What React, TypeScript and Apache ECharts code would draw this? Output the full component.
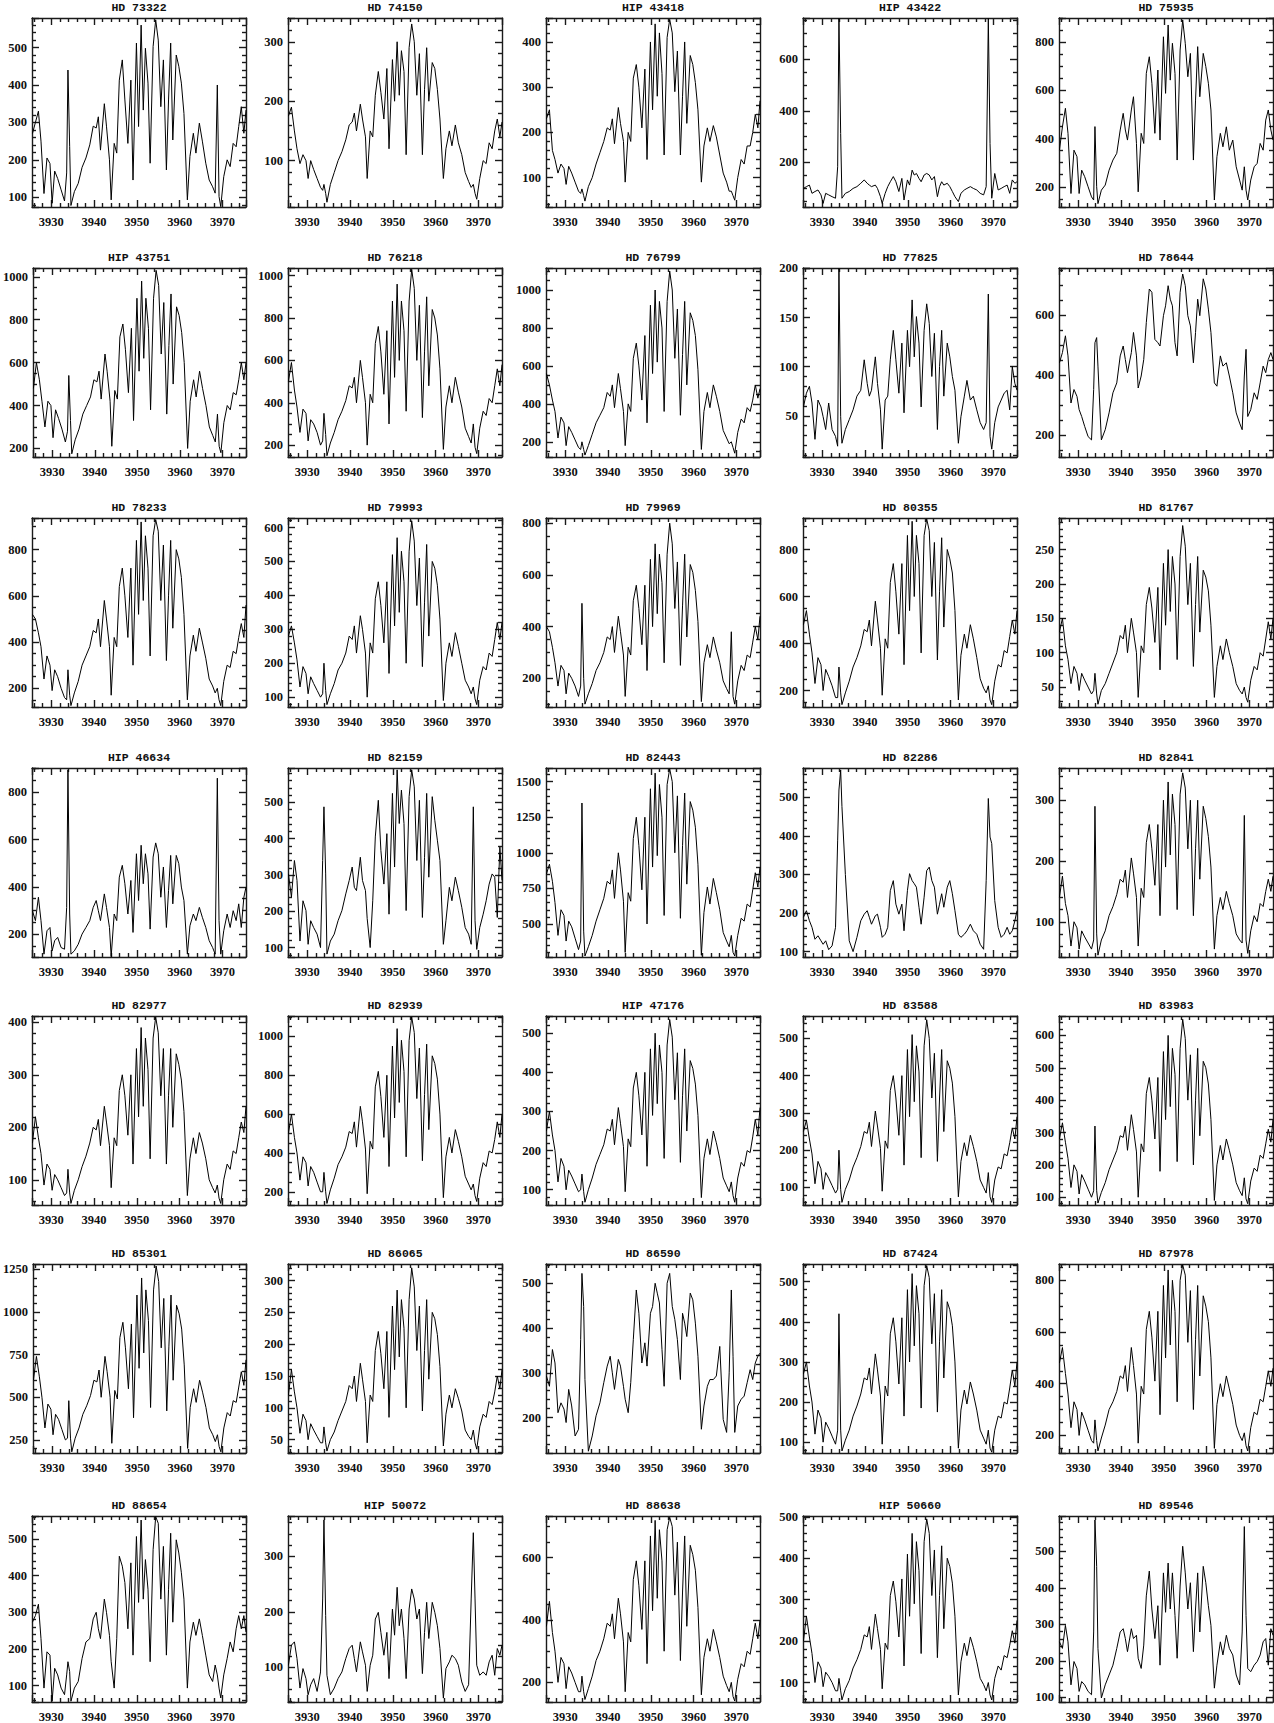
import React, { useEffect, useRef } from "react";
import * as echarts from "echarts";

// Shared wavelength grid (Angstrom)
const WAVE = [3925.6, 3926.3, 3927.0, 3927.6, 3928.3, 3929.0, 3929.7, 3930.2, 3930.8, 3931.5,
  3932.3, 3933.1, 3933.6, 3933.9, 3934.3, 3934.6, 3935.4, 3936.3, 3937.2, 3938.1,
  3939.0, 3939.8, 3940.5, 3941.0, 3941.5, 3942.4, 3942.9, 3943.6, 3944.0, 3944.7,
  3945.3, 3945.9, 3946.6, 3947.2, 3947.9, 3948.6, 3949.1, 3949.9, 3950.4, 3951.0,
  3951.5, 3952.0, 3952.6, 3953.1, 3953.8, 3954.4, 3955.0, 3955.6, 3956.2, 3956.9,
  3957.4, 3957.9, 3958.4, 3959.2, 3959.8, 3960.4, 3961.0, 3961.8, 3962.4, 3963.2,
  3963.8, 3964.6, 3965.3, 3966.1, 3966.9, 3967.7, 3968.3, 3968.8, 3969.2, 3969.6,
  3970.3, 3971.1, 3971.8, 3972.5, 3973.2, 3973.8, 3974.4, 3975.0, 3975.5];

const STAR_NAMES = [
  "HD 73322", "HD 74150", "HIP 43418", "HIP 43422", "HD 75935",
  "HIP 43751", "HD 76218", "HD 76799", "HD 77825", "HD 78644",
  "HD 78233", "HD 79993", "HD 79969", "HD 80355", "HD 81767",
  "HIP 46634", "HD 82159", "HD 82443", "HD 82286", "HD 82841",
  "HD 82977", "HD 82939", "HIP 47176", "HD 83588", "HD 83983",
  "HD 85301", "HD 86065", "HD 86590", "HD 87424", "HD 87978",
  "HD 88654", "HIP 50072", "HD 88638", "HIP 50660", "HD 89546"];

const F_HD73322 = [270,300,330,250,110,205,190,84,170,150,120,90,165,440,235,78,115,137,180,205,240,290,285,315,226,350,290,200,93,244,218,413,467,360,244,413,146,512,289,560,333,498,405,191,503,574,520,342,467,173,360,512,253,480,450,405,324,93,209,271,218,298,250,191,146,128,111,400,102,75,155,200,182,244,235,289,342,271,333];
const F_HD74150 = [175,190,150,120,95,110,100,70,100,85,70,55,50,60,45,30,60,80,100,115,135,160,165,180,150,195,170,140,70,150,140,210,250,215,170,255,120,270,200,300,210,285,250,110,290,330,300,210,280,110,220,290,200,265,255,220,170,70,120,150,125,160,130,110,80,65,55,60,45,35,70,100,95,130,120,150,170,140,165];
const F_HIP43418 = [230,250,160,140,110,130,120,85,125,110,90,70,65,75,60,48,80,100,130,155,180,210,205,230,175,255,220,180,90,200,180,320,350,300,210,340,140,400,250,440,280,420,330,150,410,450,420,290,380,150,280,400,220,370,350,310,250,90,170,210,180,215,190,150,110,90,70,70,60,50,100,140,130,170,170,200,240,210,270];
const F_HIP43422 = [99,106,112,80,87,93,74,41,80,74,67,61,183,758,312,61,80,87,99,106,119,132,119,112,106,112,99,67,41,80,106,125,145,125,87,138,54,132,112,170,151,157,138,125,151,157,151,132,145,67,106,125,112,119,106,87,67,48,80,93,99,106,99,93,80,74,106,758,273,61,157,93,99,106,112,80,132,119,125];
const F_HD75935 = [352,449,526,422,172,352,325,172,269,242,200,158,145,450,200,130,186,207,269,311,339,436,505,436,394,519,574,380,179,422,380,671,740,630,422,685,394,823,588,872,643,796,671,311,768,893,796,657,754,311,560,782,574,754,699,630,519,145,325,422,366,449,352,394,283,228,186,283,186,145,228,283,297,380,352,477,519,436,394];
const F_HIP43751 = [480,600,520,420,300,420,400,250,380,340,290,230,280,540,330,175,240,290,360,400,440,520,510,560,430,640,560,420,210,470,430,720,780,660,460,760,330,900,560,980,620,900,760,380,900,1030,960,640,880,360,680,920,500,860,820,740,600,200,420,520,440,560,480,400,300,260,230,360,210,180,320,400,380,460,450,520,600,520,600];
const F_HD76218 = [500,590,460,380,260,370,350,220,320,300,260,200,220,350,250,150,210,260,320,360,410,480,470,520,400,600,520,400,200,440,400,680,760,640,440,740,300,880,520,960,600,880,740,360,880,1030,940,600,860,330,640,900,480,840,800,720,560,180,380,480,400,520,450,380,280,240,210,300,190,160,280,360,340,420,400,480,560,480,580];
const F_HD76799 = [560,500,420,360,220,330,300,180,280,250,210,170,160,200,160,130,180,240,300,340,380,460,440,500,380,560,480,360,180,400,360,640,720,600,420,760,300,920,560,1000,620,940,800,360,940,1100,1000,640,900,340,660,940,500,880,840,760,580,160,360,460,380,500,440,360,260,220,190,200,170,140,250,320,300,380,360,420,500,430,480];
const F_HD77825 = [59,73,80,63,26,66,59,49,36,63,36,29,19,200,49,22,36,46,56,70,76,107,83,70,76,110,83,56,16,66,70,107,137,107,73,124,53,137,100,168,110,151,124,59,137,164,144,90,134,36,100,137,70,124,110,90,76,22,49,70,86,66,70,56,43,36,43,174,29,16,43,59,66,73,76,56,100,83,76];
const F_HD78644 = [440,474,530,463,306,351,328,284,261,228,194,183,351,507,524,429,183,217,273,340,373,463,496,451,407,474,541,463,356,396,451,574,686,675,518,507,496,597,630,697,652,630,507,463,675,736,697,597,563,440,541,652,597,720,686,619,541,373,362,463,429,440,396,340,273,239,217,396,485,261,284,340,318,373,429,407,451,474,451];
const F_HD78233 = [520,500,440,380,240,340,300,190,280,250,200,160,150,280,170,125,180,230,300,340,380,450,440,500,380,580,500,380,170,420,380,640,720,600,420,720,300,840,520,920,580,860,720,340,860,930,880,580,820,320,600,840,460,800,760,680,520,150,340,430,360,460,400,330,240,210,180,200,150,125,230,300,290,360,350,420,480,420,560];
const F_HD79993 = [280,310,260,210,130,190,170,110,160,140,120,100,110,200,120,78,110,140,180,200,230,280,270,310,230,340,300,230,100,260,230,390,440,370,260,440,170,520,310,570,350,530,440,200,530,620,560,370,510,190,380,550,280,500,480,430,330,90,200,260,220,290,250,200,150,130,110,130,95,78,150,190,180,230,220,270,320,270,320];
const F_HD79969 = [400,380,320,260,170,250,230,140,220,200,170,130,170,490,200,100,140,180,230,260,300,360,350,400,300,440,380,290,130,320,290,500,560,470,330,560,230,660,400,720,450,680,570,260,680,800,720,470,650,250,480,680,360,640,610,540,420,110,260,330,280,360,310,260,190,160,140,380,130,100,190,250,230,290,280,340,400,350,440];
const F_HD80355 = [480,540,440,360,230,340,310,200,290,260,220,170,170,300,190,140,190,240,300,340,390,460,450,500,390,580,500,380,180,420,380,660,740,620,440,740,310,860,540,920,600,860,740,360,860,930,880,600,830,330,620,850,470,800,760,700,540,160,350,440,380,480,420,340,250,210,190,220,160,140,240,310,300,370,360,430,500,440,540];
const F_HD81767 = [130,150,110,90,55,80,70,45,70,60,50,40,45,70,40,25,45,55,70,85,100,125,120,140,100,150,130,100,35,110,100,170,195,165,115,195,75,230,140,250,160,240,200,90,240,285,255,170,230,80,170,240,130,220,210,190,140,35,80,110,90,120,100,80,55,45,40,50,35,28,60,80,75,100,95,120,145,120,150];
const F_HIP46634 = [299,257,356,257,115,214,228,129,172,186,143,136,313,895,285,115,129,157,200,228,257,313,342,299,257,370,313,228,105,285,257,441,491,413,285,427,207,540,342,576,413,540,455,221,526,586,540,356,484,228,384,533,328,533,498,399,342,115,235,285,257,313,271,228,172,143,115,860,257,115,214,285,228,299,257,328,228,356,399];
const F_HD82159 = [303,239,340,285,118,229,202,109,174,155,137,100,340,488,303,82,118,137,174,202,248,285,322,266,257,349,285,257,180,100,229,405,506,368,275,414,192,525,322,590,442,534,442,202,516,590,543,340,506,183,349,525,294,516,451,396,340,109,174,266,229,294,257,211,155,137,109,488,174,95,155,192,229,275,303,294,183,377,285];
const F_HD82443 = [850,920,800,650,420,600,560,380,520,480,400,320,380,1350,450,275,340,420,520,600,680,800,780,880,680,1000,880,660,300,720,660,1100,1250,1050,740,1250,500,1450,900,1560,980,1480,1250,560,1480,1590,1500,1000,1400,540,1050,1420,780,1360,1300,1180,920,280,580,760,640,820,720,600,440,380,340,420,300,275,420,540,520,640,620,740,860,760,900];
const F_HD82286 = [189,206,180,163,132,141,128,119,128,105,115,163,389,519,571,476,300,128,100,137,180,197,206,189,171,193,197,163,137,145,163,258,284,223,197,223,154,258,302,284,276,267,215,171,241,310,319,284,267,197,223,250,215,267,284,250,206,145,137,145,154,171,154,145,119,106,284,497,397,380,232,163,137,145,163,145,154,180,206];
const F_HD82841 = [140,175,130,110,60,100,90,55,85,75,65,55,70,290,80,45,70,85,110,125,145,170,165,185,140,205,180,140,60,155,140,230,260,220,160,260,110,300,190,330,210,310,260,120,310,345,320,220,300,110,220,300,170,290,270,240,190,55,110,140,120,150,130,110,80,70,65,275,70,48,85,110,100,130,125,150,170,150,175];
const F_HD82977 = [170,220,180,150,90,130,120,80,110,100,85,70,75,120,75,55,80,100,125,145,170,200,195,215,165,240,210,165,85,180,165,270,300,260,185,300,130,350,220,390,240,370,310,140,370,410,380,260,350,130,260,350,200,340,320,290,230,70,140,180,150,190,170,140,100,85,75,90,65,55,100,130,120,155,150,180,210,190,240];
const F_HD82939 = [500,600,480,400,260,380,350,230,330,300,250,200,200,300,200,140,210,270,340,380,430,510,500,560,430,640,560,420,190,460,420,740,820,690,480,800,330,950,580,1040,660,980,820,380,980,1100,1020,680,940,360,700,960,520,900,860,780,600,170,380,480,400,520,460,380,280,240,210,240,180,150,270,350,330,410,400,470,560,480,600];
const F_HIP47176 = [250,300,240,200,120,180,160,100,150,135,115,95,100,140,95,68,100,130,165,190,215,255,250,280,215,310,270,210,95,230,210,360,400,340,240,400,160,460,290,500,320,470,400,180,470,535,490,330,450,170,340,460,250,430,410,370,290,80,180,230,190,250,220,180,130,110,95,120,85,68,130,170,160,200,195,235,280,240,310];
const F_HD83588 = [250,280,230,190,110,170,150,95,140,125,105,85,95,200,95,60,95,120,155,180,210,250,245,275,210,305,265,205,90,225,205,360,400,340,240,400,160,470,290,510,330,480,410,180,480,550,500,340,460,170,340,470,250,440,420,380,290,75,170,220,185,240,210,170,120,100,85,140,75,60,120,155,150,190,185,220,260,230,290];
const F_HD83983 = [280,330,270,220,130,200,180,110,170,150,125,100,120,320,120,82,115,145,185,215,245,290,285,320,245,355,310,240,100,265,240,420,470,400,280,470,180,550,340,600,380,560,480,210,560,650,590,400,540,200,400,560,290,520,500,450,340,90,200,260,215,280,245,200,145,120,105,160,95,80,150,190,180,230,220,265,310,270,340];
const F_HD85301 = [600,740,620,500,320,460,430,280,400,370,310,250,260,480,260,180,260,320,400,450,510,600,590,660,500,740,650,500,230,540,490,850,940,790,550,930,380,1100,670,1200,760,1130,950,440,1130,1270,1180,790,1080,420,800,1100,600,1040,990,900,690,200,440,550,470,600,530,440,320,280,240,280,210,180,320,410,390,480,470,560,650,570,720];
const F_HD86065 = [120,160,125,100,60,90,80,50,75,65,55,45,45,70,45,32,50,62,80,95,110,135,130,150,110,170,145,110,45,120,110,190,220,185,130,220,85,260,160,285,180,270,225,100,270,320,290,190,260,95,190,270,145,250,240,215,165,40,90,120,100,130,115,95,65,55,50,65,45,35,70,90,85,110,105,125,150,130,160];
const F_HD86590 = [293,270,352,322,211,233,219,189,263,226,159,174,374,522,448,285,125,159,204,233,278,315,337,300,263,330,315,270,241,211,278,374,485,433,322,367,315,433,448,500,478,456,352,270,500,522,448,419,374,285,433,411,381,478,463,411,337,174,226,270,285,285,293,359,196,167,300,485,337,167,226,241,248,278,307,285,322,337,344];
const F_HD87424 = [270,300,240,200,120,180,160,100,150,135,115,95,130,420,130,78,105,130,165,190,220,260,255,285,220,320,280,215,95,240,215,370,410,350,245,410,165,480,300,520,340,490,420,185,490,540,510,345,470,175,350,480,260,450,430,390,300,85,180,230,195,250,220,180,130,110,95,130,85,75,130,165,160,200,195,235,280,240,300];
const F_HD87978 = [480,540,440,360,230,330,300,200,290,260,220,180,170,260,180,140,190,240,300,330,370,430,420,470,370,540,470,360,170,390,360,610,680,580,410,680,280,780,500,840,550,800,680,330,800,860,820,560,760,300,570,780,430,740,700,640,500,150,320,400,350,430,380,320,240,200,180,210,160,140,230,290,280,340,330,390,450,390,460];
const F_HD88654 = [273,291,322,228,93,192,183,57,147,129,93,75,129,165,138,57,93,111,174,219,228,282,300,255,228,336,300,237,165,93,228,453,426,381,255,435,183,507,327,552,336,444,363,165,471,561,543,336,480,183,363,516,273,498,462,408,336,93,219,273,237,282,237,183,129,111,156,129,93,66,129,174,219,192,255,291,255,291,246];
const F_HIP50072 = [104,140,146,116,63,98,80,51,69,80,57,92,223,365,193,86,51,63,80,92,116,134,140,116,92,146,128,104,57,104,122,187,199,163,122,163,80,205,158,244,175,205,152,80,205,241,223,187,205,89,163,217,152,217,199,175,134,45,98,110,122,116,104,74,57,69,223,342,223,104,86,92,86,110,122,86,134,122,140];
const F_HD88638 = [380,460,360,300,200,280,260,180,250,230,200,170,170,220,170,145,180,220,270,300,340,390,380,420,340,470,420,330,170,360,330,530,590,510,370,590,260,670,430,720,470,690,590,300,690,730,700,480,650,270,490,670,380,640,610,560,440,160,280,340,300,370,330,280,220,190,170,200,155,140,210,260,250,300,290,340,390,340,400];
const F_HIP50660 = [200,260,210,170,100,150,135,90,125,115,100,80,80,110,80,58,85,105,135,155,180,215,210,235,180,265,230,180,85,195,180,310,345,295,210,350,140,410,260,460,290,440,370,170,440,495,460,310,420,160,310,430,230,400,380,340,260,70,150,195,165,210,185,150,110,95,80,100,70,58,110,140,130,165,160,190,225,195,250];
const F_HD89546 = [252,234,297,252,134,198,179,116,143,134,116,107,279,586,459,234,98,134,161,188,234,279,288,261,225,288,261,270,207,179,243,378,446,342,261,351,188,441,333,468,342,441,324,207,405,514,441,342,414,225,342,441,279,459,414,351,297,125,188,252,216,270,234,216,161,134,279,568,324,179,170,188,198,216,252,261,188,288,270];

const FLUXES = [
  F_HD73322, F_HD74150, F_HIP43418, F_HIP43422, F_HD75935,
  F_HIP43751, F_HD76218, F_HD76799, F_HD77825, F_HD78644,
  F_HD78233, F_HD79993, F_HD79969, F_HD80355, F_HD81767,
  F_HIP46634, F_HD82159, F_HD82443, F_HD82286, F_HD82841,
  F_HD82977, F_HD82939, F_HIP47176, F_HD83588, F_HD83983,
  F_HD85301, F_HD86065, F_HD86590, F_HD87424, F_HD87978,
  F_HD88654, F_HIP50072, F_HD88638, F_HIP50660, F_HD89546];

// y-axis ranges and major tick steps per panel
const Y_MIN = [74, 22, 35, 27, 116, 160, 144, 120, 8, 126, 119, 71, 89, 130, 21, 103, 74, 268, 86, 42, 52, 132, 61, 53, 76, 173, 29, 121, 73, 132, 55, 38, 137, 53, 87];
const Y_MAX = [579, 340, 453, 760, 901, 1041, 1036, 1116, 200.5, 756, 937, 628, 820, 934, 296, 903, 595, 1596, 576, 353, 412, 1105, 544, 560, 660, 1282, 326, 543, 544, 863, 563, 372, 734, 502, 597];
const Y_STEP = [100, 100, 100, 200, 200, 200, 200, 200, 50, 200, 200, 100, 200, 200, 50, 200, 100, 250, 100, 100, 100, 200, 100, 100, 100, 250, 50, 100, 100, 200, 100, 100, 200, 100, 100];

const X_MIN = 3925.5;
const X_MAX = 3975.5;
const X_STEP = 10;

// layout
const COL_LEFT = [32, 288, 546, 803, 1059];
const ROW_TOP = [18, 268, 518, 768, 1016, 1264, 1516];
const PANEL_W = 214;
const PANEL_H = 189;
const INK = "#1a1a1a";
const LABEL_FONT = "Liberation Serif";
const TITLE_FONT = "Liberation Mono";

function buildOption() {
  const grid: any[] = [];
  const xAxis: any[] = [];
  const yAxis: any[] = [];
  const series: any[] = [];
  const title: any[] = [];
  const lineStyle = { color: INK, width: 1.4 };
  STAR_NAMES.forEach((name, i) => {
    const r = Math.floor(i / 5);
    const c = i % 5;
    const left = COL_LEFT[c];
    const top = ROW_TOP[r];
    grid.push({ left, top, width: PANEL_W, height: PANEL_H, show: false, containLabel: false });
    const common = {
      type: "value",
      gridIndex: i,
      axisLine: { show: true, onZero: false, lineStyle },
      axisTick: { show: true, inside: true, length: 7, lineStyle },
      splitLine: { show: false },
      minorSplitLine: { show: false },
    };
    const xc = {
      ...common,
      min: X_MIN,
      max: X_MAX,
      minInterval: X_STEP,
      maxInterval: X_STEP,
      minorTick: { show: true, splitNumber: 5, length: 4, lineStyle },
    };
    xAxis.push({
      ...xc,
      position: "bottom",
      axisLabel: {
        show: true, margin: 8, fontFamily: LABEL_FONT, fontSize: 12.5, fontWeight: "bold", color: "#111",
        showMinLabel: false, showMaxLabel: false,
        formatter: (v: number) => String(v),
      },
    });
    xAxis.push({ ...xc, position: "top", axisLabel: { show: false } });
    const step = Y_STEP[i];
    const yc = {
      ...common,
      min: Y_MIN[i],
      max: Y_MAX[i],
      minInterval: step,
      maxInterval: step,
      minorTick: { show: true, splitNumber: step === 200 ? 4 : 5, length: 4, lineStyle },
    };
    yAxis.push({
      ...yc,
      position: "left",
      axisLabel: {
        show: true, margin: 5, fontFamily: LABEL_FONT, fontSize: 12.5, fontWeight: "bold", color: "#111",
        showMinLabel: false, showMaxLabel: false,
        formatter: (v: number) => String(v),
      },
    });
    yAxis.push({ ...yc, position: "right", axisLabel: { show: false } });
    series.push({
      type: "line",
      name,
      xAxisIndex: 2 * i,
      yAxisIndex: 2 * i,
      data: WAVE.map((w, k) => [w, FLUXES[i][k]]),
      symbol: "none",
      showSymbol: false,
      clip: true,
      silent: true,
      lineStyle: { color: "#000", width: 1 },
    });
    title.push({
      text: name,
      left: left + PANEL_W / 2,
      top: Math.max(1, top - 17),
      textAlign: "center",
      padding: 0,
      textStyle: { fontFamily: TITLE_FONT, fontSize: 11.5, fontWeight: "bold", color: "#111", lineHeight: 13 },
    });
  });
  return {
    animation: false,
    backgroundColor: "#ffffff",
    title,
    grid,
    xAxis,
    yAxis,
    series,
  };
}

export default function App() {
  const ref = useRef<HTMLDivElement>(null);
  useEffect(() => {
    document.body.style.margin = "0";
    if (!ref.current) return;
    const chart = echarts.init(ref.current, undefined, { renderer: "svg" });
    chart.setOption(buildOption() as any);
    return () => chart.dispose();
  }, []);
  return <div ref={ref} style={{ width: 1274, height: 1723 }} />;
}
